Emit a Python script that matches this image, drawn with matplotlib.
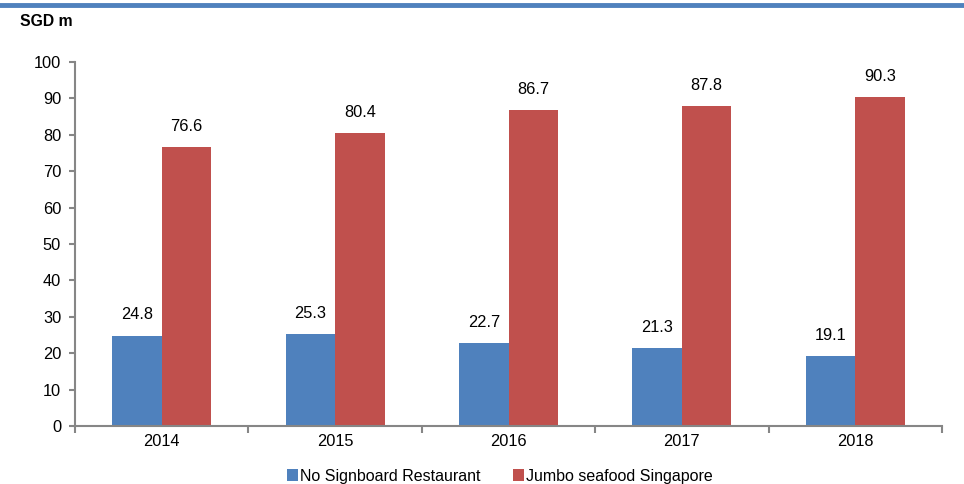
import numpy as np
import matplotlib.pyplot as plt
from matplotlib.lines import Line2D

plt.rcParams["font.family"] = ["Liberation Sans", "DejaVu Sans"]

years = ["2014", "2015", "2016", "2017", "2018"]
no_signboard = [24.8, 25.3, 22.7, 21.3, 19.1]
jumbo = [76.6, 80.4, 86.7, 87.8, 90.3]

blue = "#4F81BD"
red = "#C0504D"
grey = "#868686"
fs = 11.8

fig = plt.figure(figsize=(9.64, 4.84), dpi=100)
ax = fig.add_axes([75 / 964, 1 - 426 / 484, 867 / 964, 364 / 484])

x = np.arange(len(years))
w = 0.285
b1 = ax.bar(x - w / 2, no_signboard, w, color=blue, label="No Signboard Restaurant")
b2 = ax.bar(x + w / 2, jumbo, w, color=red, label="Jumbo seafood Singapore")

for bars, vals in ((b1, no_signboard), (b2, jumbo)):
    for r, v in zip(bars, vals):
        ax.text(r.get_x() + r.get_width() / 2, v + 5.7, f"{v:.1f}",
                ha="center", va="center", fontsize=fs)

ax.set_xlim(-0.5, len(years) - 0.5)
ax.set_ylim(0, 100)
ax.set_yticks(range(0, 101, 10))
ax.set_xticks(x)
ax.set_xticklabels(years)
ax.set_xticks(np.arange(-0.5, len(years)), minor=True)
ax.tick_params(axis="x", which="major", length=0, labelsize=fs, pad=6)
ax.tick_params(axis="x", which="minor", length=5, color=grey, width=1.5)
ax.tick_params(axis="y", length=4, color=grey, width=1.5, labelsize=fs, pad=6)

for s in ("top", "right"):
    ax.spines[s].set_visible(False)
for s in ("left", "bottom"):
    ax.spines[s].set_color(grey)
    ax.spines[s].set_linewidth(1.5)

fig.text(20 / 964, 1 - 22 / 484, "SGD m", fontsize=11.3, fontweight="bold",
         va="center", ha="left")

fig.add_artist(Line2D([0, 1], [1 - 5 / 484, 1 - 5 / 484], color=blue, lw=3.5,
                      transform=fig.transFigure))

fig.legend(handles=[b1, b2], loc="center", bbox_to_anchor=(500 / 964, 1 - 476 / 484),
           ncol=2, frameon=False, fontsize=11.5, handlelength=0.7,
           handleheight=0.7, handletextpad=0.15, columnspacing=2.0)

fig.savefig("out.png", dpi=100)
